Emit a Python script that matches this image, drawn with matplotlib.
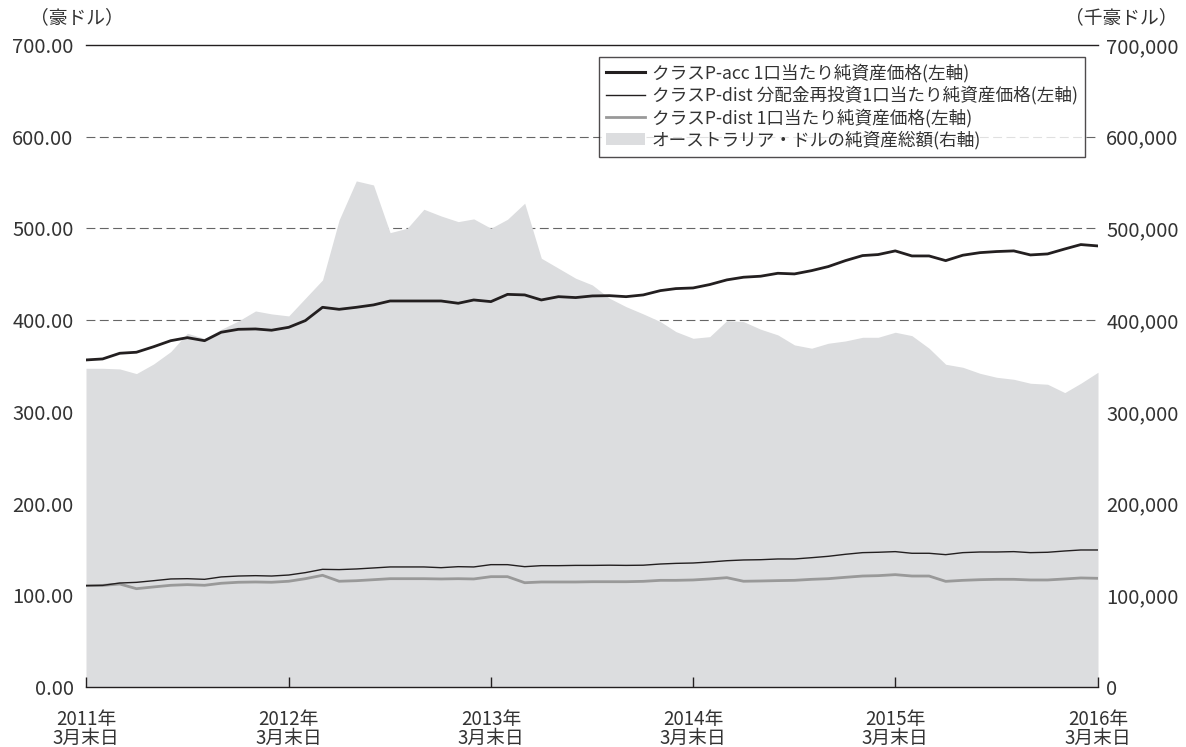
import matplotlib
matplotlib.use("Agg")
import matplotlib.pyplot as plt
import numpy as np
import pandas as pd
from matplotlib.patches import Patch
from matplotlib.lines import Line2D

plt.rcParams['font.family'] = ['Noto Sans CJK JP', 'DejaVu Sans']

# Monthly month-end, March 2011 .. March 2016 (61 points)
dates = pd.date_range("2011-03-31", "2016-03-31", freq="ME")

acc_nav = [356.6, 357.7, 363.9, 365.0, 371.0, 377.6, 380.9, 377.6, 386.8, 390.0,
           390.4, 389.0, 392.2, 399.5, 414.0, 411.8, 414.0, 416.6, 420.9, 420.9,
           420.9, 420.9, 418.4, 422.0, 420.2, 428.1, 427.5, 422.0, 425.6, 424.6,
           426.4, 426.7, 425.6, 427.5, 432.2, 434.4, 435.1, 438.8, 443.9, 446.8,
           447.9, 451.1, 450.4, 454.0, 458.4, 464.9, 470.4, 471.5, 475.5, 470.0,
           470.0, 464.9, 470.8, 473.6, 474.8, 475.5, 471.1, 472.2, 477.6, 482.4,
           480.9]

dist_reinv_nav = [110.5, 110.8, 113.4, 114.1, 115.9, 117.8, 118.1, 117.4, 120.0, 121.0,
                  121.4, 121.0, 122.1, 124.7, 128.3, 128.0, 128.7, 129.8, 130.9, 130.9,
                  130.9, 130.1, 131.2, 130.9, 133.4, 133.4, 131.2, 132.3, 132.3, 132.6,
                  132.6, 132.8, 132.6, 132.8, 134.1, 134.8, 135.2, 136.3, 137.7, 138.5,
                  138.8, 139.6, 139.6, 141.0, 142.5, 144.7, 146.5, 146.9, 147.6, 145.8,
                  145.8, 144.3, 146.5, 147.2, 147.2, 147.6, 146.5, 146.9, 148.3, 149.4,
                  149.4]

dist_nav = [110.5, 110.8, 112.3, 107.2, 109.1, 110.9, 111.6, 110.9, 113.1, 114.2,
            114.5, 114.2, 115.3, 118.1, 121.8, 115.3, 115.9, 117.0, 118.1, 118.1,
            118.1, 117.8, 118.1, 117.8, 120.3, 120.3, 113.7, 114.5, 114.5, 114.5,
            114.8, 114.8, 114.8, 115.2, 116.3, 116.3, 116.7, 117.8, 119.2, 115.3,
            115.6, 116.0, 116.3, 117.4, 118.1, 119.6, 121.0, 121.4, 122.5, 121.0,
            121.0, 115.2, 116.3, 117.0, 117.4, 117.4, 116.7, 116.7, 117.8, 118.9,
            118.5]

# net assets, thousand AUD
net_assets = [347500, 347500, 346800, 341700, 352200, 365700, 385700, 380000, 390000, 399000,
              410000, 406800, 404600, 423900, 443800, 509300, 551800, 547400, 495400, 500200,
              520900, 513600, 507400, 510400, 500200, 510000, 527500, 467500, 456600, 445700,
              438400, 423900, 414700, 406800, 398400, 387500, 380200, 382000, 399500, 398400,
              390100, 383900, 373000, 369400, 374800, 377300, 381300, 381300, 386800, 383100,
              369400, 351900, 348600, 342000, 337700, 335500, 331200, 330100, 321000, 331200,
              343200]

left_ticks = [0, 100, 200, 300, 400, 500, 600, 700]
right_ticks = [0, 100000, 200000, 300000, 400000, 500000, 600000, 700000]
xtick_dates = pd.to_datetime(["2011-03-31", "2012-03-31", "2013-03-31",
                              "2014-03-31", "2015-03-31", "2016-03-31"])
xtick_labels = ["2011年\n3月末日", "2012年\n3月末日", "2013年\n3月末日",
                "2014年\n3月末日", "2015年\n3月末日", "2016年\n3月末日"]

labels = ["クラスP-acc 1口当たり純資産価格(左軸)",
          "クラスP-dist 分配金再投資1口当たり純資産価格(左軸)",
          "クラスP-dist 1口当たり純資産価格(左軸)",
          "オーストラリア・ドルの純資産総額(右軸)"]

TXT = "#333333"
AREA = "#dcdddf"

fig = plt.figure(figsize=(11.86, 7.47), dpi=100)
ax = fig.add_axes([86/1186, 1-687/747, 1012/1186, 642/747])
ax2 = ax.twinx()

# area on right axis (behind)
ax2.fill_between(dates, net_assets, 0, color=AREA, lw=0, zorder=2)
for v in [400000, 500000, 600000]:
    ax2.axhline(v, color="#666666", lw=0.8, ls=(0, (8, 4)), zorder=1)
ax2.set_ylim(0, 700000)
ax2.set_yticks(right_ticks)
ax2.set_yticklabels([f"{v:,}" for v in right_ticks])

# lines on left axis (front)
ax.set_zorder(ax2.get_zorder() + 1)
ax.patch.set_visible(False)
ax.plot(dates, dist_nav, color="#999999", lw=2.0, zorder=3)
ax.plot(dates, dist_reinv_nav, color="#231f20", lw=1.0, zorder=4)
ax.plot(dates, acc_nav, color="#231f20", lw=2.0, zorder=5)
ax.axhline(700, color="#231f20", lw=1.0, clip_on=False)
ax.set_ylim(0, 700)
ax.set_yticks(left_ticks)
ax.set_yticklabels([f"{v:.2f}" for v in left_ticks])
ax.set_xlim(dates[0], dates[-1])
ax.set_xticks(xtick_dates)
ax.set_xticklabels(xtick_labels, linespacing=0.85)

for a in (ax, ax2):
    for s in ["top", "left", "right"]:
        a.spines[s].set_visible(False)
ax2.spines["bottom"].set_visible(False)
ax.spines["bottom"].set_color("#231f20")
ax.spines["bottom"].set_linewidth(1.0)

ax.tick_params(axis="y", length=0, pad=9, labelsize=14.5, labelcolor=TXT)
ax2.tick_params(axis="y", length=0, pad=6, labelsize=14.5, labelcolor=TXT)
ax.tick_params(axis="x", direction="in", length=7, width=1, color="#231f20",
               pad=16, labelsize=13.5, labelcolor=TXT)

fig.text(30/1186, 1-18/747, "（豪ドル）", fontsize=13.5, color=TXT, va="center", ha="left")
fig.text(1178/1186, 1-18/747, "（千豪ドル）", fontsize=13.5, color=TXT, va="center", ha="right")

handles = [Line2D([], [], color="#231f20", lw=2.2),
           Line2D([], [], color="#231f20", lw=1.0),
           Line2D([], [], color="#999999", lw=2.0),
           Patch(facecolor=AREA, edgecolor="none")]
leg = ax.legend(handles, labels, loc="upper right", bbox_to_anchor=(0.987, 0.982),
                fontsize=12.7, frameon=True, fancybox=False, handlelength=2.2,
                handletextpad=0.4, labelspacing=0.2, borderpad=0.4,
                borderaxespad=0)
leg.get_frame().set_edgecolor("#231f20")
leg.get_frame().set_linewidth(1.0)
for t in leg.get_texts():
    t.set_color(TXT)

fig.savefig("out.png", dpi=100)
